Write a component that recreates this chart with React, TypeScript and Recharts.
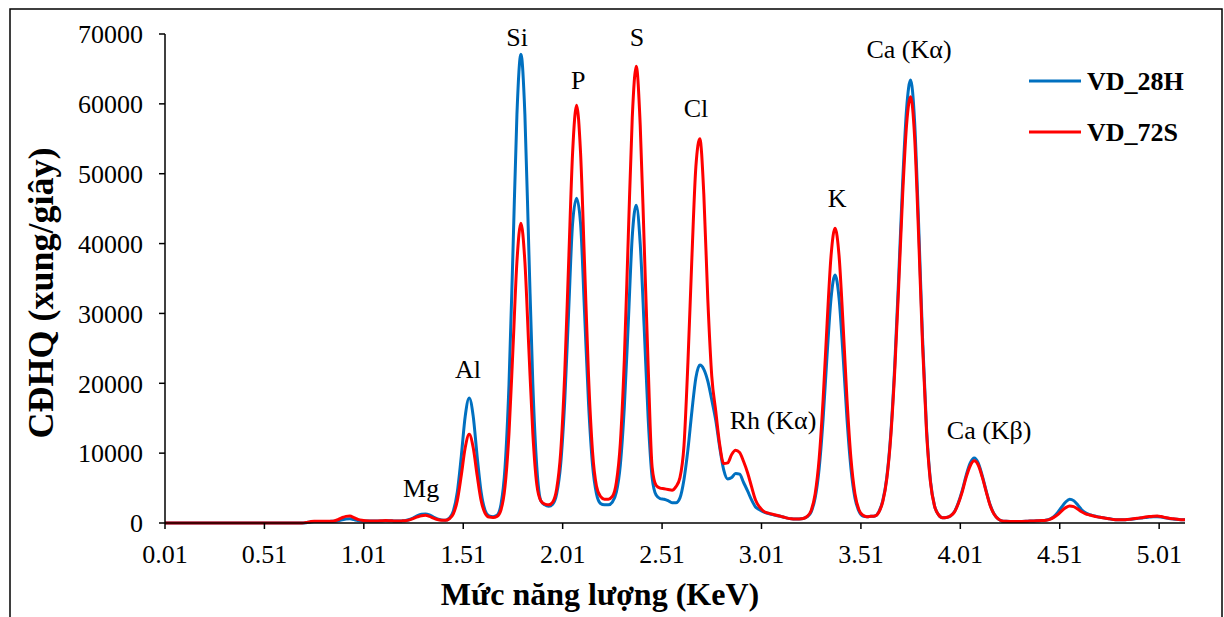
import { LineChart, Line, XAxis, YAxis, ReferenceDot } from 'recharts';

const FONT = "'Liberation Serif', 'Times New Roman', serif";
const BLUE = '#0070C0';
const RED = '#FF0000';

// energy grid (KeV)
const energy = [
  0.01, 0.68,
  0.70, 0.72, 0.74, 0.76, 0.78, 0.80, 0.82, 0.84, 0.86, 0.88,
  0.90, 0.92, 0.94, 0.96, 0.98, 1.00, 1.02, 1.04, 1.06, 1.08,
  1.10, 1.12, 1.14, 1.16, 1.18, 1.20, 1.22, 1.24, 1.26, 1.28,
  1.30, 1.32, 1.34, 1.36, 1.38, 1.40, 1.42, 1.44, 1.46, 1.48,
  1.50, 1.52, 1.54, 1.56, 1.58, 1.60, 1.62, 1.64, 1.66, 1.68,
  1.70, 1.72, 1.74, 1.76, 1.78, 1.80, 1.82, 1.84, 1.86, 1.88,
  1.90, 1.92, 1.94, 1.96, 1.98, 2.00, 2.02, 2.04, 2.06, 2.08,
  2.10, 2.12, 2.14, 2.16, 2.18, 2.20, 2.22, 2.24, 2.26, 2.28,
  2.30, 2.32, 2.34, 2.36, 2.38, 2.40, 2.42, 2.44, 2.46, 2.48,
  2.50, 2.52, 2.54, 2.56, 2.58, 2.60, 2.62, 2.64, 2.66, 2.68,
  2.70, 2.72, 2.74, 2.76, 2.78, 2.80, 2.82, 2.84, 2.86, 2.88,
  2.90, 2.92, 2.94, 2.96, 2.98, 3.00, 3.02, 3.04, 3.06, 3.08,
  3.10, 3.12, 3.14, 3.16, 3.18, 3.20, 3.22, 3.24, 3.26, 3.28,
  3.30, 3.32, 3.34, 3.36, 3.38, 3.40, 3.42, 3.44, 3.46, 3.48,
  3.50, 3.52, 3.54, 3.56, 3.58, 3.60, 3.62, 3.64, 3.66, 3.68,
  3.70, 3.72, 3.74, 3.76, 3.78, 3.80, 3.82, 3.84, 3.86, 3.88,
  3.90, 3.92, 3.94, 3.96, 3.98, 4.00, 4.02, 4.04, 4.06, 4.08,
  4.10, 4.12, 4.14, 4.16, 4.18, 4.20, 4.22, 4.24, 4.26, 4.28,
  4.30, 4.32, 4.34, 4.36, 4.38, 4.40, 4.42, 4.44, 4.46, 4.48,
  4.50, 4.52, 4.54, 4.56, 4.58, 4.60, 4.62, 4.64, 4.66, 4.68,
  4.70, 4.72, 4.74, 4.76, 4.78, 4.80, 4.82, 4.84, 4.86, 4.88,
  4.90, 4.92, 4.94, 4.96, 4.98, 5.00, 5.02, 5.04, 5.06, 5.08,
  5.10, 5.12, 5.14,
];

const vd28h = [
  0, 0,
  0, 50, 150, 200, 200, 220, 220, 230, 250, 330,
  450, 580, 600, 480, 360, 300, 280, 280, 300, 300,
  300, 320, 320, 300, 280, 300, 350, 500, 750, 1050,
  1250, 1300, 1150, 850, 600, 450, 400, 700, 1700, 4400,
  9500, 15300, 17900, 15300, 9500, 4400, 1800, 1000, 900, 1100,
  2700, 7900, 19800, 38800, 58500, 67100, 58500, 38900, 19900, 8000,
  3200, 2600, 2400, 2700, 4200, 8400, 17200, 30200, 42900, 46500,
  42900, 30200, 17200, 8400, 4200, 2800, 2600, 2600, 3000, 4400,
  8300, 16500, 28600, 41000, 45500, 40000, 28000, 15000, 6500, 4000,
  3500, 3400, 3200, 2900, 2900, 3600, 6200, 10500, 16000, 20800,
  22600, 22000, 20300, 17600, 14700, 10800, 7600, 6300, 6500, 7100,
  7000, 5800, 4600, 3300, 2300, 1900, 1600, 1400, 1250, 1100,
  1000, 850, 700, 600, 570, 580, 650, 900, 1600, 3600,
  7800, 14900, 24100, 32200, 35500, 32200, 24100, 14900, 7800, 3600,
  1700, 1000, 900, 950, 1000, 1600, 3200, 6500, 12700, 22500,
  35200, 48800, 59400, 63400, 57500, 43000, 26500, 13600, 6000, 2500,
  1200, 750, 800, 1000, 1600, 2900, 4700, 6900, 8600, 9300,
  8600, 6800, 4600, 2600, 1300, 600, 300, 250, 220, 200,
  200, 220, 250, 280, 300, 320, 350, 400, 550, 900,
  1500, 2300, 3000, 3400, 3200, 2600, 1900, 1450, 1200, 1050,
  900, 800, 700, 600, 500, 450, 450, 480, 520, 580,
  650, 720, 800, 850, 900, 900, 850, 750, 650, 580,
  520, 480, 450,
];

const vd72s = [
  0, 0,
  0, 80, 180, 250, 250, 250, 250, 260, 300, 480,
  750, 950, 1000, 780, 520, 380, 320, 300, 300, 300,
  320, 350, 330, 300, 280, 300, 330, 450, 650, 880,
  1050, 1100, 950, 700, 500, 400, 380, 600, 1300, 3200,
  6800, 10800, 12700, 10800, 6800, 3200, 1400, 850, 800, 950,
  1900, 5200, 12800, 24900, 37400, 42900, 37400, 24900, 12800, 5500,
  3200, 2700, 2600, 3000, 4900, 10100, 21100, 37200, 53000, 59800,
  53000, 37200, 21100, 10300, 5300, 3800, 3400, 3400, 3800, 5800,
  11400, 23300, 40900, 58000, 65400, 57000, 40000, 22500, 8000, 5400,
  5000, 4900, 4800, 4700, 5200, 6500, 11000, 23000, 38000, 51000,
  55000, 47000, 32000, 21000, 16000, 11200, 8500, 8600, 9800, 10400,
  10100, 8800, 7200, 5200, 3300, 2300, 1700, 1450, 1300, 1150,
  1000, 850, 700, 600, 570, 580, 650, 950, 1800, 4200,
  9200, 17700, 28600, 38300, 42200, 38300, 28600, 17700, 9200, 4200,
  1900, 1100, 900, 950, 1000, 1550, 3050, 6300, 12300, 21700,
  33900, 47000, 57100, 61000, 55300, 41300, 25500, 13100, 5800, 2450,
  1200, 750, 800, 1000, 1550, 2800, 4500, 6600, 8200, 8900,
  8300, 6600, 4500, 2500, 1250, 600, 300, 250, 220, 200,
  200, 220, 250, 280, 300, 320, 350, 400, 520, 800,
  1200, 1750, 2200, 2450, 2350, 2000, 1600, 1300, 1150, 1000,
  880, 780, 680, 600, 500, 450, 450, 480, 520, 600,
  680, 760, 850, 920, 970, 1000, 920, 800, 680, 600,
  530, 480, 450,
];

const xTicks = [0.01, 0.51, 1.01, 1.51, 2.01, 2.51, 3.01, 3.51, 4.01, 4.51, 5.01];
const yTicks = [0, 10000, 20000, 30000, 40000, 50000, 60000, 70000];

// peak annotations: name, energy and height of the label centre
const peakNames = ['Mg', 'Al', 'Si', 'P', 'S', 'Cl', 'Rh (Kα)', 'K', 'Ca (Kα)', 'Ca (Kβ)'];
const peakLabelEnergy = [1.298, 1.534, 1.781, 2.088, 2.384, 2.681, 3.068, 3.39, 3.752, 4.155];
const peakLabelHeight = [4900, 22000, 69500, 63400, 69500, 59400, 14700, 46500, 67800, 13300];

const seriesNames = ['VD_28H', 'VD_72S'];

const data = energy.map((e, i) => ({ e, vd28h: vd28h[i], vd72s: vd72s[i] }));

const axisStyle = { stroke: '#000', strokeWidth: 1.5 };
const tickStyle = { fill: '#000', fontSize: 26, fontFamily: FONT, style: { fontFamily: FONT } };

export default function App() {
  return (
    <div
      style={{
        position: 'absolute',
        left: 0,
        top: 0,
        width: 1224,
        height: 617,
        background: '#fff',
        overflow: 'hidden',
        fontFamily: FONT,
      }}
    >
      <LineChart width={1224} height={617} data={data} margin={{ top: 34, right: 39, bottom: 0, left: 0 }}>
        <XAxis
          dataKey="e"
          type="number"
          domain={[0.01, 5.14]}
          ticks={xTicks}
          interval={0}
          allowDataOverflow
          tickFormatter={(v: number) => v.toFixed(2)}
          height={94}
          axisLine={axisStyle}
          tickLine={axisStyle}
          tickSize={6}
          tickMargin={16}
          tick={tickStyle}
        />
        <YAxis
          type="number"
          domain={[0, 70000]}
          ticks={yTicks}
          interval={0}
          width={165}
          axisLine={axisStyle}
          tickLine={axisStyle}
          tickSize={6}
          tickMargin={16}
          tick={tickStyle}
        />
        <Line
          type="monotone"
          dataKey="vd28h"
          stroke={BLUE}
          strokeWidth={3}
          dot={false}
          isAnimationActive={false}
        />
        <Line
          type="monotone"
          dataKey="vd72s"
          stroke={RED}
          strokeWidth={3}
          dot={false}
          isAnimationActive={false}
        />
        {peakNames.map((name, i) => (
          <ReferenceDot
            key={name}
            x={peakLabelEnergy[i]}
            y={peakLabelHeight[i]}
            r={1}
            shape={(p: any) => (
              <text
                x={p.cx}
                y={p.cy}
                textAnchor="middle"
                dominantBaseline="central"
                fontSize={26}
                fill="#000"
                style={{ fontFamily: FONT }}
              >
                {name}
              </text>
            )}
          />
        ))}
      </LineChart>
      <svg
        width={1224}
        height={617}
        style={{ position: 'absolute', left: 0, top: 0, pointerEvents: 'none' }}
      >
        <rect x={10} y={9} width={1212} height={640} fill="none" stroke="#000" strokeWidth={1.5} />
        <text
          x={600}
          y={605}
          textAnchor="middle"
          fontSize={32}
          fontWeight="bold"
          fill="#000"
          style={{ fontFamily: FONT }}
        >
          Mức năng lượng (KeV)
        </text>
        <text
          transform="translate(53, 293) rotate(-90)"
          textAnchor="middle"
          fontSize={36}
          fontWeight="bold"
          fill="#000"
          style={{ fontFamily: FONT }}
        >
          CĐHQ (xung/giây)
        </text>
        {seriesNames.map((name, i) => (
          <g key={name}>
            <line x1={1029} x2={1081} y1={81 + i * 51} y2={81 + i * 51} stroke={i === 0 ? BLUE : RED} strokeWidth={3} />
            <text
              x={1087}
              y={81 + i * 51}
              dominantBaseline="central"
              fontSize={26}
              fontWeight="bold"
              fill="#000"
              style={{ fontFamily: FONT }}
            >
              {name}
            </text>
          </g>
        ))}
      </svg>
    </div>
  );
}
